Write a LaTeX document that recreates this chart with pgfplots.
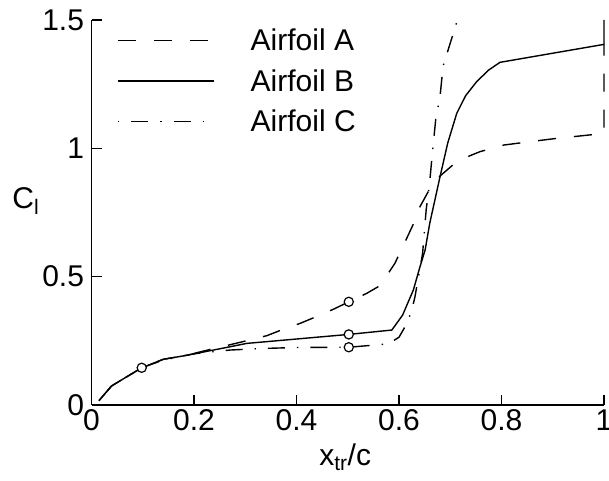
\documentclass[border=0pt]{standalone}
\usepackage{pgfplots}
\pgfplotsset{compat=1.18}
\usepackage{fontspec}
\setmainfont{Liberation Sans}
\begin{document}
\begin{tikzpicture}
\begin{axis}[
  scale only axis, width=512.5pt, height=385pt,
  xmin=0, xmax=1, ymin=0, ymax=1.5,
  axis x line*=bottom, axis y line*=left,
  axis line style={line width=1.3pt, -},
  clip=false,
  xtick={0,0.2,0.4,0.6,0.8,1}, ytick={0,0.5,1,1.5},
  tick align=inside, major tick length=10pt,
  tick style={line width=1.2pt, black},
  /pgf/number format/assume math mode=true,
  ticklabel style={font=\fontsize{30}{30}\selectfont},
  xticklabel style={yshift=-1pt},
  yticklabel style={xshift=-4pt},
  xlabel={x\textsubscript{tr}/c},
  ylabel={C\textsubscript{l}},
  label style={font=\fontsize{30}{30}\selectfont},
  xlabel style={at={(rel axis cs:0.495,-0.135)}, anchor=center},
  ylabel style={at={(rel axis cs:-0.128,0.53)}, anchor=center, rotate=-90},
  legend style={draw=none, fill=none, at={(rel axis cs:0.05,0.982)}, anchor=north west,
    font=\fontsize{30}{30}\selectfont, inner sep=0pt, row sep=13pt,
    /tikz/every odd column/.append style={column sep=34pt}},
  legend cell align=left,
  legend image code/.code={\draw[#1] (0pt,0pt) -- (96pt,0pt);},
  every axis plot/.append style={line width=1.4pt},
]
\addplot[black, dash pattern=on 18pt off 18pt] coordinates {
(0.0146,0.017) (0.039,0.074) (0.098,0.145) (0.14,0.178) (0.19,0.195) (0.208,0.205)
(0.3,0.249) (0.342,0.27) (0.374,0.295) (0.407,0.318) (0.436,0.342) (0.472,0.373)
(0.502,0.402) (0.537,0.435) (0.563,0.465) (0.592,0.552) (0.615,0.649) (0.628,0.705)
(0.641,0.773) (0.657,0.831) (0.672,0.872) (0.68,0.892) (0.705,0.935) (0.737,0.97)
(0.758,0.987) (0.805,1.013) (0.9,1.037) (1,1.058) (1,1.405)};
\addlegendentry{Airfoil A}
\addplot[black] coordinates {
(0.0146,0.017) (0.039,0.074) (0.098,0.145) (0.14,0.178) (0.19,0.195) (0.303,0.24)
(0.502,0.275) (0.586,0.292) (0.607,0.35) (0.628,0.448) (0.641,0.539) (0.651,0.604)
(0.66,0.708) (0.68,0.889) (0.695,1.02) (0.7126,1.136) (0.73,1.205) (0.7516,1.26) (0.775,1.305)
(0.797,1.335) (1,1.405) (1,1.5)};
\addlegendentry{Airfoil B}
\addplot[black, dash pattern=on 1.4pt off 12pt on 17pt off 12pt] coordinates {
(0.0146,0.017) (0.039,0.074) (0.098,0.145) (0.14,0.175) (0.2,0.2) (0.27,0.214) (0.33,0.22)
(0.40,0.224) (0.502,0.225) (0.579,0.238) (0.6,0.264) (0.616,0.32) (0.625,0.37)
(0.631,0.42) (0.646,0.59) (0.653,0.76) (0.66,0.87) (0.665,0.98) (0.672,1.12)
(0.68,1.2) (0.686,1.32) (0.70,1.41) (0.711,1.48) (0.7135,1.5)};
\addlegendentry{Airfoil C}
\addplot[only marks, mark=*, mark size=4.6pt, mark options={fill=white, draw=black, line width=1.2pt, solid}, forget plot]
coordinates {(0.098,0.145) (0.502,0.402) (0.502,0.275) (0.502,0.225)};
\coordinate (bl) at (rel axis cs:-0.17854,-0.197403);
\coordinate (tr) at (rel axis cs:1.009756,1.051948);
\end{axis}
\pgfresetboundingbox
\path[use as bounding box] (bl) rectangle (tr);
\end{tikzpicture}
\end{document}
